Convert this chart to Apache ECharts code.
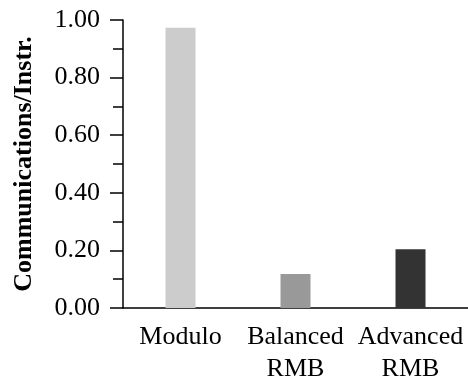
<!DOCTYPE html>
<html>
<head>
<meta charset="utf-8">
<script src="https://cdn.jsdelivr.net/npm/echarts@6/dist/echarts.min.js"></script>
<style>html,body{margin:0;padding:0;background:#fff;}#c{width:468px;height:381px;}</style>
</head>
<body>
<div id="c"></div>
<script>
const categories = ['Modulo', 'Balanced\nRMB', 'Advanced\nRMB'];
const values = [0.973, 0.118, 0.204];
const barColors = ['#cccccc', '#999999', '#333333'];
const yTitle = 'Communications/Instr.';

const chart = echarts.init(document.getElementById('c'), null, {renderer: 'canvas'});
const font = 'Liberation Serif, Times New Roman, serif';
chart.setOption({
  animation: false,
  backgroundColor: '#ffffff',
  grid: {left: 123, right: 0, top: 20, bottom: 73, containLabel: false, outerBoundsMode: 'none'},
  xAxis: {
    type: 'category',
    data: categories,
    axisLine: {lineStyle: {color: '#000', width: 1.5}},
    axisTick: {show: false},
    axisLabel: {color: '#000', fontFamily: font, fontSize: 26, lineHeight: 32, margin: 13, interval: 0}
  },
  yAxis: {
    type: 'value',
    min: 0, max: 1, interval: 0.2,
    name: yTitle,
    nameLocation: 'middle',
    nameGap: 86,
    nameTextStyle: {color: '#000', fontFamily: font, fontSize: 26, fontWeight: 'bold'},
    axisLine: {show: true, lineStyle: {color: '#000', width: 1.5}},
    axisTick: {show: true, length: 13, lineStyle: {color: '#000', width: 1.5}},
    minorTick: {show: true, splitNumber: 2, length: 10, lineStyle: {color: '#000', width: 1.5}},
    splitLine: {show: false},
    axisLabel: {color: '#000', fontFamily: font, fontSize: 26, margin: 23, formatter: v => v.toFixed(2)}
  },
  series: [{
    type: 'bar',
    data: values.map((v, i) => ({value: v, itemStyle: {color: barColors[i]}})),
    barWidth: 30
  }]
});
</script>
</body>
</html>
